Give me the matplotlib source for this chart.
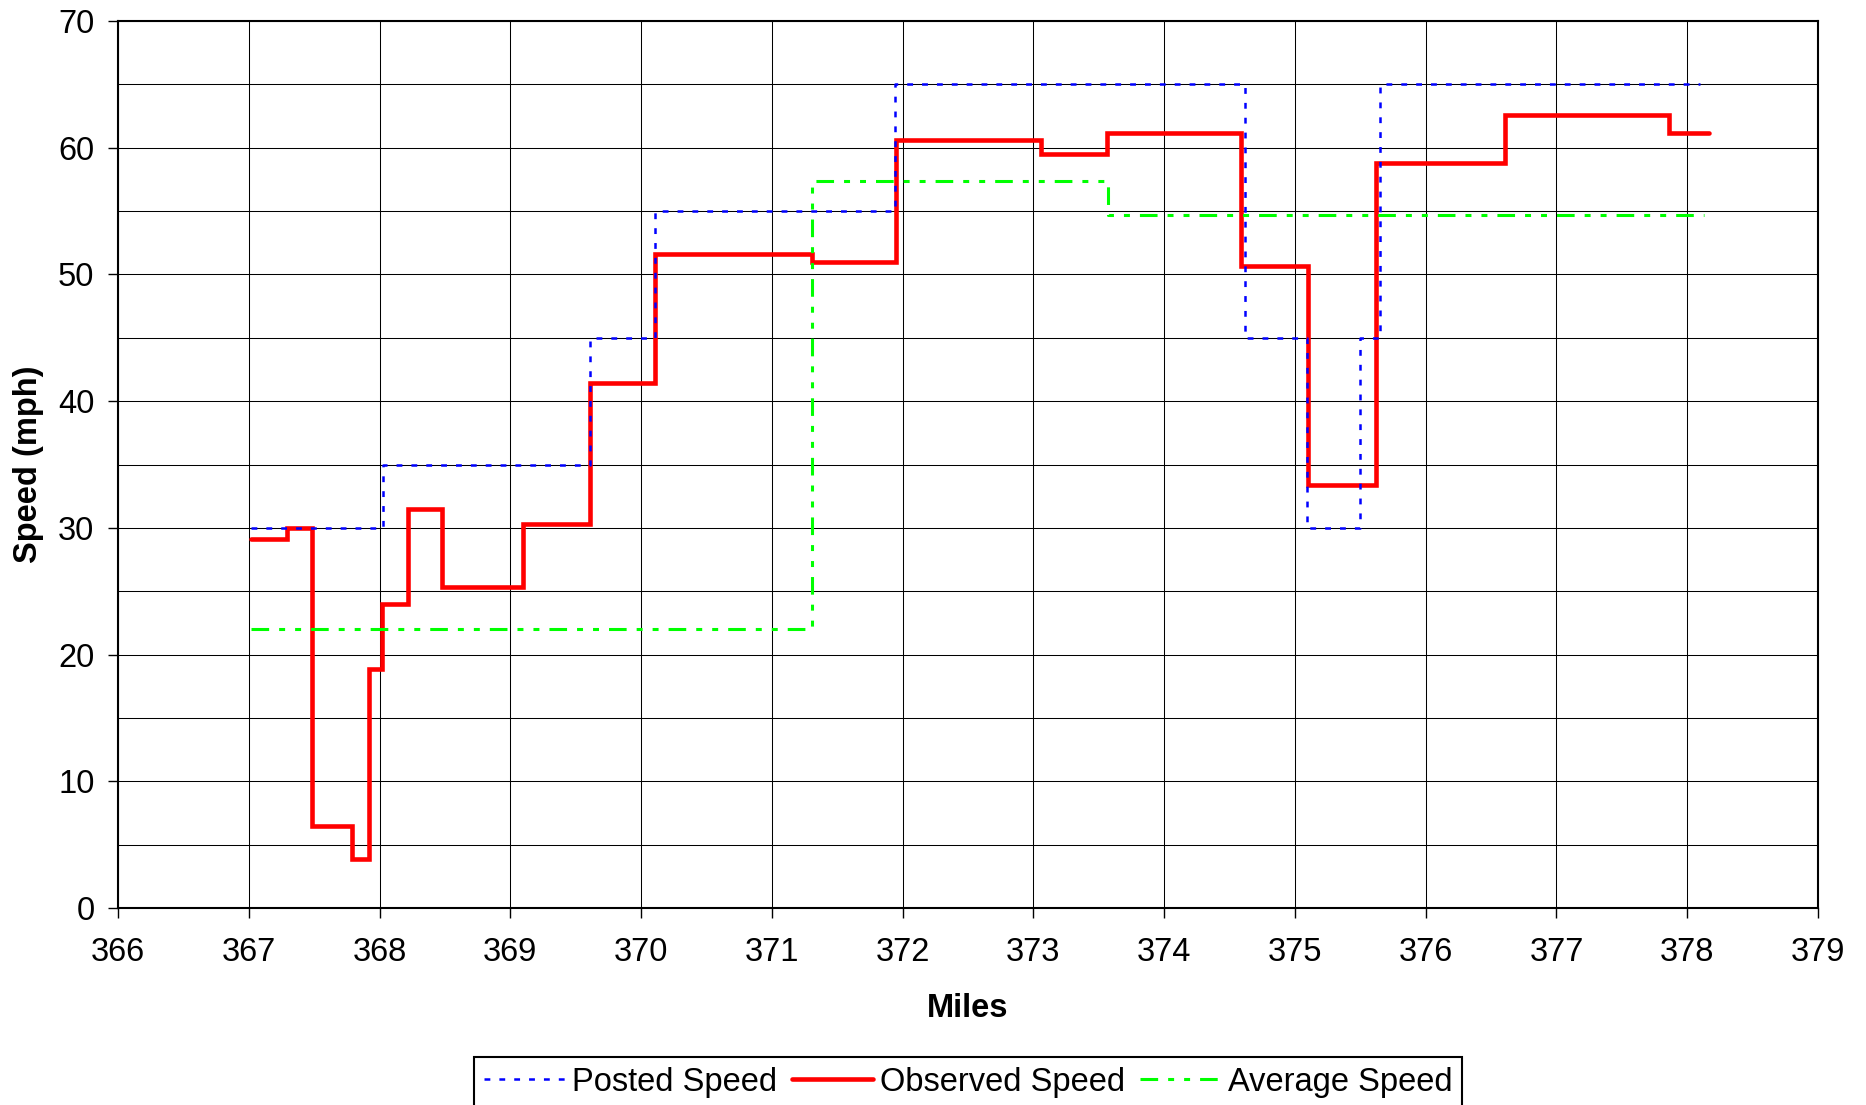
import matplotlib
matplotlib.use("Agg")
import matplotlib.pyplot as plt
from matplotlib.ticker import MultipleLocator

plt.rcParams['font.family'] = ['Liberation Sans', 'DejaVu Sans']
plt.rcParams['lines.scale_dashes'] = False

# ---- data ----
posted_edges = [367.02, 368.03, 369.61, 370.11, 371.94, 374.62, 375.09, 375.50, 375.65, 378.10]
posted_vals = [30, 35, 45, 55, 65, 45, 30, 45, 65]

observed_edges = [367.02, 367.29, 367.48, 367.79, 367.92, 368.02, 368.22, 368.48, 369.10,
                  369.61, 370.11, 371.31, 371.95, 373.06, 373.56, 374.59, 375.10, 375.62,
                  376.61, 377.86, 378.17]
observed_vals = [29.1, 30.0, 6.5, 3.9, 18.9, 24.0, 31.5, 25.3, 30.3, 41.4, 51.6, 51.0,
                 60.6, 59.5, 61.2, 50.7, 33.4, 58.8, 62.6, 61.2]

average_edges = [367.02, 371.31, 373.57, 378.13]
average_vals = [22.0, 57.4, 54.7]

x_min, x_max = 366, 379
y_min, y_max = 0, 70
x_label = "Miles"
y_label = "Speed (mph)"
series_names = ["Posted Speed", "Observed Speed", "Average Speed"]

FS = 23.5

# ---- figure ----
fig = plt.figure(figsize=(18.66, 11.05), dpi=100)
ax = fig.add_axes([118/1866, 1 - 908/1105, (1818-118)/1866, (908-21)/1105])

ax.set_xlim(x_min, x_max)
ax.set_ylim(y_min, y_max)
ax.xaxis.set_major_locator(MultipleLocator(1))
ax.yaxis.set_major_locator(MultipleLocator(10))
ax.yaxis.set_minor_locator(MultipleLocator(5))

ax.grid(True, which='major', axis='both', color='black', lw=0.75, zorder=1)
ax.grid(True, which='minor', axis='y', color='black', lw=0.75, zorder=1)
ax.set_axisbelow(True)

l_obs, = ax.step(observed_edges, observed_vals + [observed_vals[-1]], where='post',
                 color='#ff0000', lw=3.3, solid_joinstyle='miter', solid_capstyle='round', zorder=3)
l_post, = ax.step(posted_edges, posted_vals + [posted_vals[-1]], where='post',
                  color='#0000ff', lw=1.8, dashes=(4.2, 6.5), zorder=4)
l_avg, = ax.step(average_edges, average_vals + [average_vals[-1]], where='post',
                 color='#00ff00', lw=2.2, dashes=(12.7, 7.2, 4.3, 7.2, 4.3, 7.2), zorder=4)

for s in ax.spines.values():
    s.set_linewidth(1.5)
    s.set_color('black')

ax.tick_params(axis='x', which='major', direction='out', length=7, width=1, pad=14,
               labelsize=FS)
ax.tick_params(axis='y', which='major', direction='out', length=7, width=1, pad=10,
               labelsize=FS)
ax.tick_params(axis='y', which='minor', length=0)

ax.set_xlabel(x_label, fontsize=FS, fontweight='bold', labelpad=18)
ax.set_ylabel(y_label, fontsize=FS, fontweight='bold', labelpad=10)

leg = fig.legend([l_post, l_obs, l_avg], series_names, loc='upper center',
                 bbox_to_anchor=(968/1866, 1 - 1057/1105), ncol=3, fontsize=FS,
                 frameon=True, fancybox=False, edgecolor='black', framealpha=1,
                 handlelength=2.5, handletextpad=0.2, columnspacing=0.45,
                 borderpad=0.3, borderaxespad=0)
leg.get_frame().set_linewidth(1.5)

fig.savefig("out.png", dpi=100)
